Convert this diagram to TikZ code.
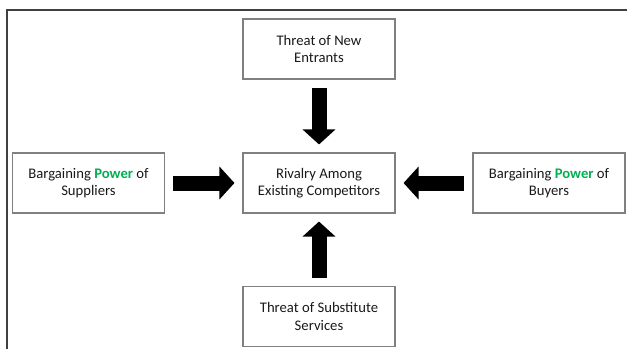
\documentclass[tikz,border=0pt]{standalone}
\usepackage{fontspec}
\setmainfont{Carlito}
\usetikzlibrary{arrows.meta}
\definecolor{powergreen}{RGB}{0,176,80}
\definecolor{framegray}{RGB}{64,64,64}
\definecolor{boxgray}{RGB}{128,128,128}
\newcommand{\pw}{\textcolor{powergreen}{\textbf{Power}}}

\begin{document}
\begin{tikzpicture}[x=0.75pt,y=-0.75pt,
  force/.style={draw=boxgray,line width=0.8pt,minimum width=114pt,minimum height=45pt,
    inner sep=0pt,align=center,text=black!90,font=\fontsize{11}{13.2}\selectfont},
  blockarrow/.style={line width=11.25pt,-{Triangle[length=11.25pt,width=24pt]},
    shorten <=6pt,shorten >=6pt}]
\useasboundingbox (0,0) rectangle (627,349);
\draw[framegray,line width=1.1pt] (7,349) -- (7,10) -- (627,10);
\node[force] (rivalry) at (319,183) {Rivalry Among\\Existing Competitors};
\node[force] (entrants) at (319,49) {Threat of New\\Entrants};
\node[force] (substitutes) at (319,316.5) {Threat of Substitute\\Services};
\node[force] (suppliers) at (88.5,183) {Bargaining \pw{} of\\Suppliers};
\node[force] (buyers) at (549,183) {Bargaining \pw{} of\\Buyers};
\draw[blockarrow] (entrants) -- (rivalry);
\draw[blockarrow] (substitutes) -- (rivalry);
\draw[blockarrow] (suppliers) -- (rivalry);
\draw[blockarrow] (buyers) -- (rivalry);
\end{tikzpicture}
\end{document}
